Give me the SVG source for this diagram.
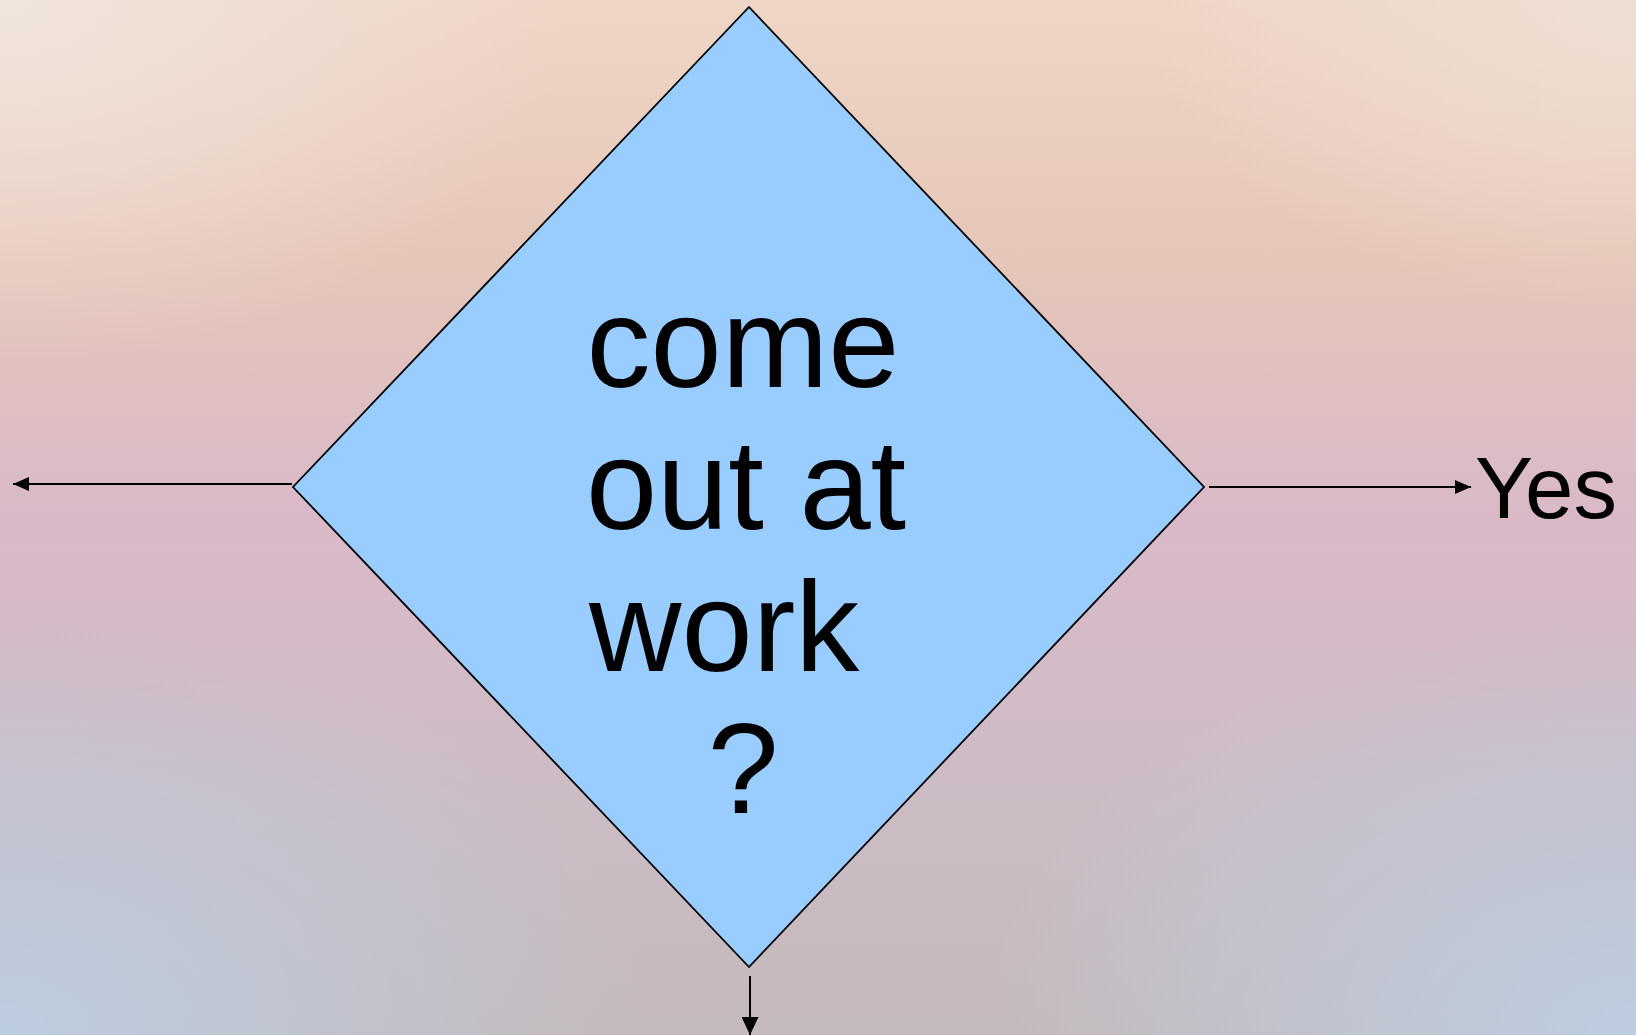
<svg xmlns="http://www.w3.org/2000/svg" width="1636" height="1035" viewBox="0 0 1636 1035">
<defs>
<linearGradient id="bg" x1="0" y1="0" x2="0" y2="1">
<stop offset="0" stop-color="#eed6c6"/>
<stop offset="0.25" stop-color="#e5c6b8"/>
<stop offset="0.5" stop-color="#d9b9c8"/>
<stop offset="0.78" stop-color="#cbbcc4"/>
<stop offset="1" stop-color="#c4b9bb"/>
</linearGradient>
<radialGradient id="tl" cx="0" cy="0" r="0.35">
<stop offset="0" stop-color="#f0e4dc" stop-opacity="1"/>
<stop offset="1" stop-color="#f0e4dc" stop-opacity="0"/>
</radialGradient>
<radialGradient id="tr" cx="1" cy="0" r="0.3">
<stop offset="0" stop-color="#eedfd2" stop-opacity="1"/>
<stop offset="1" stop-color="#eedfd2" stop-opacity="0"/>
</radialGradient>
<radialGradient id="bl" cx="0" cy="1" r="0.4">
<stop offset="0" stop-color="#bccde0" stop-opacity="1"/>
<stop offset="1" stop-color="#bccde0" stop-opacity="0"/>
</radialGradient>
<radialGradient id="br" cx="1" cy="1" r="0.4">
<stop offset="0" stop-color="#bccde0" stop-opacity="1"/>
<stop offset="1" stop-color="#bccde0" stop-opacity="0"/>
</radialGradient>
<marker id="ah" viewBox="0 0 16 14" refX="16" refY="7" markerWidth="16" markerHeight="14" markerUnits="userSpaceOnUse" orient="auto">
<path d="M0,0 L16,7 L0,14 Z" fill="#000"/>
</marker>
<marker id="ahb" viewBox="0 0 18 17" refX="18" refY="8.5" markerWidth="18" markerHeight="17" markerUnits="userSpaceOnUse" orient="auto">
<path d="M0,0 L18,8.5 L0,17 Z" fill="#000"/>
</marker>
<style>
.lbl{font-family:"Liberation Sans",Arial,sans-serif;fill:#000}
.big{font-size:128px}
.yes{font-size:87px}
.conn{stroke:#000;stroke-width:2;fill:none}
</style>
</defs>
<rect width="1636" height="1035" fill="url(#bg)"/>
<rect width="1636" height="1035" fill="url(#tl)"/>
<rect width="1636" height="1035" fill="url(#tr)"/>
<rect width="1636" height="1035" fill="url(#bl)"/>
<rect width="1636" height="1035" fill="url(#br)"/>
<g id="decision">
<polygon points="749,7 1204,487 749,967 293,487" fill="#99ccff" stroke="#000" stroke-width="1.8"/>
<text class="lbl big" x="743" y="387" text-anchor="middle">come</text>
<text class="lbl big" x="746" y="529" text-anchor="middle">out at</text>
<text class="lbl big" x="589" y="671">work</text>
<text class="lbl big" x="743" y="813" text-anchor="middle">?</text>
</g>
<g id="yes-label">
<text class="lbl yes" x="1475" y="518">Yes</text>
</g>
<g id="connectors">
<line class="conn" x1="292" y1="484" x2="13" y2="484" marker-end="url(#ah)"/>
<line class="conn" x1="1209" y1="487" x2="1471" y2="487" marker-end="url(#ah)"/>
<line class="conn" x1="750" y1="976" x2="750" y2="1035" marker-end="url(#ahb)"/>
</g>
</svg>
